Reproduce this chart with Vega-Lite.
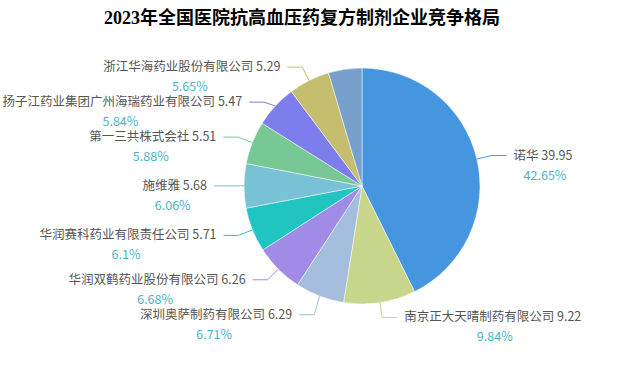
{
  "$schema": "https://vega.github.io/schema/vega-lite/v6.json",
  "width": 532,
  "height": 292,
  "autosize": {"type": "none"},
  "padding": {"left": 96, "top": 40, "right": 0, "bottom": 45},
  "background": "white",
  "title": {
    "text": "2023年全国医院抗高血压药复方制剂企业竞争格局",
    "font": "Liberation Serif, Noto Sans CJK SC",
    "fontSize": 18,
    "fontWeight": "bold",
    "color": "#000000",
    "anchor": "middle",
    "dx": -60,
    "offset": 12
  },
  "config": {"view": {"stroke": null}},
  "data": {
    "values": [
      {"name": "诺华", "value": 39.95, "pct": 42.65},
      {"name": "南京正大天晴制药有限公司", "value": 9.22, "pct": 9.84},
      {"name": "深圳奥萨制药有限公司", "value": 6.29, "pct": 6.71},
      {"name": "华润双鹤药业股份有限公司", "value": 6.26, "pct": 6.68},
      {"name": "华润赛科药业有限责任公司", "value": 5.71, "pct": 6.1},
      {"name": "施维雅", "value": 5.68, "pct": 6.06},
      {"name": "第一三共株式会社", "value": 5.51, "pct": 5.88},
      {"name": "扬子江药业集团广州海瑞药业有限公司", "value": 5.47, "pct": 5.84},
      {"name": "浙江华海药业股份有限公司", "value": 5.29, "pct": 5.65},
      {"name": "其他", "value": 4.29, "pct": 4.59}
    ]
  },
  "transform": [
    {"window": [{"op": "sum", "field": "value", "as": "cum"}], "sort": [{"field": "value", "order": "descending"}], "frame": [null, 0]},
    {"joinaggregate": [{"op": "sum", "field": "value", "as": "total"}]},
    {"calculate": "2*PI*(datum.cum - datum.value/2)/datum.total", "as": "a"},
    {"calculate": "sin(datum.a) >= 0 ? 1 : -1", "as": "s"},
    {"calculate": "118*sin(datum.a)", "as": "ex"},
    {"calculate": "118*cos(datum.a)", "as": "ey"},
    {"calculate": "133*sin(datum.a)", "as": "bx"},
    {"calculate": "133*cos(datum.a)", "as": "by"}
  ],
  "layer": [
    {
      "mark": {"type": "arc", "radius": 118, "stroke": "#ffffff", "strokeWidth": 0.5},
      "encoding": {
        "theta": {"field": "value", "type": "quantitative", "stack": true},
        "order": {"field": "value", "type": "quantitative", "sort": "descending"},
        "color": {
          "field": "name",
          "type": "nominal",
          "legend": null,
          "scale": {
            "domain": ["诺华", "南京正大天晴制药有限公司", "深圳奥萨制药有限公司", "华润双鹤药业股份有限公司", "华润赛科药业有限责任公司", "施维雅", "第一三共株式会社", "扬子江药业集团广州海瑞药业有限公司", "浙江华海药业股份有限公司", "其他"],
            "range": ["#4596DE", "#C8D68C", "#A5BDDC", "#A08CE6", "#20C4C0", "#78C2D6", "#78C896", "#7D7DEB", "#C4BE6E", "#78A0CD"]
          }
        }
      }
    },
    {
      "transform": [
        {"filter": "datum.name != '其他'"},
        {"window": [{"op": "row_number", "as": "rank"}], "groupby": ["s"], "sort": [{"field": "by", "order": "descending"}]},
        {"calculate": "datum.by + datum.rank*35", "as": "z"},
        {"window": [{"op": "min", "field": "z", "as": "zmin"}], "groupby": ["s"], "sort": [{"field": "by", "order": "descending"}], "frame": [null, 0]},
        {"calculate": "datum.zmin - datum.rank*35", "as": "ly"},
        {"calculate": "datum.bx + datum.s*15", "as": "hx"},
        {"calculate": "datum.hx + datum.s*7", "as": "tx"},
        {"calculate": "datum.name + ' ' + datum.value", "as": "label1"},
        {"calculate": "datum.pct + '%'", "as": "label2"},
        {"calculate": "length(datum.name)*12.5 + 3.5 + length(toString(datum.value))*6.9", "as": "w"},
        {"calculate": "datum.tx + datum.s*datum.w/2", "as": "cx"},
        {"calculate": "datum.ly - 20", "as": "py"}
      ],
      "layer": [
        {
          "mark": {"type": "rule", "strokeWidth": 1},
          "encoding": {
            "x": {"field": "ex", "type": "quantitative", "scale": {"domain": [-266, 266], "nice": false, "zero": false}, "axis": null},
            "y": {"field": "ey", "type": "quantitative", "scale": {"domain": [-146, 146], "nice": false, "zero": false}, "axis": null},
            "x2": {"field": "bx"},
            "y2": {"field": "ly"},
            "color": {"field": "name", "type": "nominal", "legend": null}
          }
        },
        {
          "mark": {"type": "rule", "strokeWidth": 1},
          "encoding": {
            "x": {"field": "bx", "type": "quantitative", "axis": null},
            "x2": {"field": "hx"},
            "y": {"field": "ly", "type": "quantitative", "axis": null},
            "color": {"field": "name", "type": "nominal", "legend": null}
          }
        },
        {
          "transform": [{"filter": "datum.s > 0"}],
          "mark": {"type": "text", "align": "left", "baseline": "middle", "font": "Noto Sans CJK SC", "fontSize": 12.5, "color": "#555555"},
          "encoding": {
            "x": {"field": "tx", "type": "quantitative", "axis": null},
            "y": {"field": "ly", "type": "quantitative", "axis": null},
            "text": {"field": "label1", "type": "nominal"}
          }
        },
        {
          "transform": [{"filter": "datum.s < 0"}],
          "mark": {"type": "text", "align": "right", "baseline": "middle", "font": "Noto Sans CJK SC", "fontSize": 12.5, "color": "#555555"},
          "encoding": {
            "x": {"field": "tx", "type": "quantitative", "axis": null},
            "y": {"field": "ly", "type": "quantitative", "axis": null},
            "text": {"field": "label1", "type": "nominal"}
          }
        },
        {
          "mark": {"type": "text", "align": "center", "baseline": "middle", "font": "Noto Sans CJK SC", "fontSize": 12.5, "color": "#45B5C6"},
          "encoding": {
            "x": {"field": "cx", "type": "quantitative", "axis": null},
            "y": {"field": "py", "type": "quantitative", "axis": null},
            "text": {"field": "label2", "type": "nominal"}
          }
        }
      ]
    }
  ]
}
